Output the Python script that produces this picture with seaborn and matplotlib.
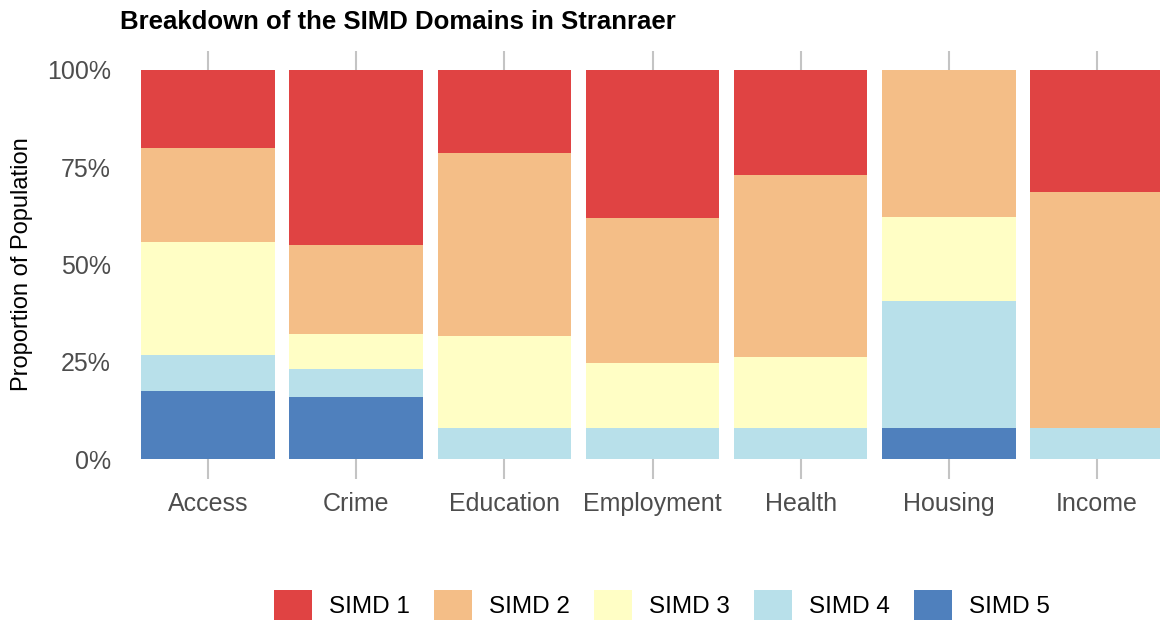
import pandas as pd
import matplotlib.pyplot as plt
import seaborn as sns
from matplotlib.patches import Patch

# Data (% of population in each SIMD quintile)
domains = ["Access", "Crime", "Education", "Employment", "Health", "Housing", "Income"]
simd_levels = ["SIMD 1", "SIMD 2", "SIMD 3", "SIMD 4", "SIMD 5"]
simd1 = [20.0, 45.0, 21.3, 38.0, 27.0, 0.0, 31.4]
simd2 = [24.2, 22.9, 47.1, 37.3, 46.8, 37.8, 60.6]
simd3 = [29.1, 9.0, 23.6, 16.7, 18.2, 21.6, 0.0]
simd4 = [9.2, 7.2, 8.0, 8.0, 8.0, 32.6, 8.0]
simd5 = [17.5, 15.9, 0.0, 0.0, 0.0, 8.0, 0.0]
colors = ["#E04343", "#F4BE87", "#FFFEC5", "#B8E0EA", "#4F80BD"]

# Long format table for seaborn
rows = []
for level, vals in zip(simd_levels, [simd1, simd2, simd3, simd4, simd5]):
    for d, v in zip(domains, vals):
        rows.append({"Domain": d, "SIMD": level, "Share": v})
df = pd.DataFrame(rows)

sns.set_style("white")
plt.rcParams["font.family"] = ["Liberation Sans", "DejaVu Sans"]
plt.rcParams["text.color"] = "black"

fig = plt.figure(figsize=(11.6, 6.26), dpi=100)
ax = fig.add_axes([119 / 1160, 147.5 / 626, 1067 / 1160, 428 / 626])

sns.histplot(data=df, x="Domain", hue="SIMD", weights="Share",
             hue_order=simd_levels, palette=colors, multiple="stack",
             discrete=True, shrink=0.9, alpha=1, linewidth=0,
             legend=False, ax=ax)

ax.set_xlim(-0.6, 6.6)
ax.set_ylim(-5, 105)
ax.set_yticks([0, 25, 50, 75, 100])
ax.set_yticklabels(["0%", "25%", "50%", "75%", "100%"])
ax.set_xticks(range(len(domains)))
ax.set_xticklabels(domains)
ax.tick_params(axis="both", length=0, labelsize=18, labelcolor="#4D4D4D")
ax.tick_params(axis="x", pad=10)
ax.tick_params(axis="y", pad=6)
ax.set_xlabel("")
ax.set_ylabel("Proportion of Population", fontsize=17, color="black", labelpad=10)

ax.grid(axis="x", color="#C4C4C4", linewidth=1.5)
ax.grid(axis="y", visible=False)
ax.set_axisbelow(True)
for s in ax.spines.values():
    s.set_visible(False)

fig.text(120 / 1160, 1 - 22 / 626, "Breakdown of the SIMD Domains in Stranraer",
         fontsize=18.5, fontweight="bold", va="center", ha="left", color="black")

handles = [Patch(facecolor=c, edgecolor="none") for c in colors]
fig.legend(handles, simd_levels, loc="center", bbox_to_anchor=(662 / 1160, 1 - 605 / 626),
           ncol=5, frameon=False, fontsize=17.5, handlelength=1.55, handleheight=1.55,
           handletextpad=0.7, columnspacing=1.0, labelcolor="black")

fig.savefig("out.png", dpi=100)
